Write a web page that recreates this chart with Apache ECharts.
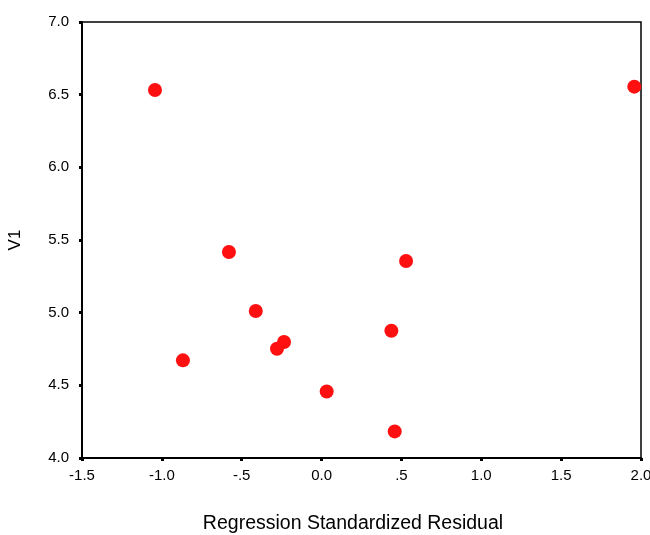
<!DOCTYPE html>
<html>
<head>
<meta charset="utf-8">
<script src="https://cdn.jsdelivr.net/npm/echarts@6/dist/echarts.min.js"></script>
<style>html,body{margin:0;padding:0;background:#fff}#c{width:650px;height:535px}</style>
</head>
<body>
<div id="c"></div>
<script>
var residuals = [-1.043, 1.958, -0.580, 0.529, -0.412, 0.437, -0.235, -0.279, -0.868, 0.032, 0.458];
var v1Values  = [6.532, 6.555, 5.417, 5.355, 5.011, 4.876, 4.798, 4.752, 4.672, 4.458, 4.183];
var xTickValues = [-1.5, -1.0, -0.5, 0.0, 0.5, 1.0, 1.5, 2.0];
var xTickLabels = ['-1.5', '-1.0', '-.5', '0.0', '.5', '1.0', '1.5', '2.0'];
var yTickValues = [4.0, 4.5, 5.0, 5.5, 6.0, 6.5, 7.0];
var yTickLabels = ['4.0', '4.5', '5.0', '5.5', '6.0', '6.5', '7.0'];
var xTitle = 'Regression Standardized Residual';
var yTitle = 'V1';

function lookup(vals, labels, v) {
  for (var i = 0; i < vals.length; i++) if (Math.abs(vals[i] - v) < 1e-6) return labels[i];
  return '';
}

var points = residuals.map(function (x, i) { return [x, v1Values[i]]; });
var font = 'Liberation Sans, Arial, sans-serif';

var chart = echarts.init(document.getElementById('c'));
chart.setOption({
  animation: false,
  backgroundColor: '#ffffff',
  grid: { left: 82, right: 9, top: 22, bottom: 77, show: true, borderColor: '#000', borderWidth: 1.5,
          backgroundColor: 'transparent', containLabel: false, outerBoundsMode: 'none' },
  xAxis: {
    type: 'value', min: -1.5, max: 2.0, interval: 0.5,
    name: xTitle, nameLocation: 'middle', nameGap: 56,
    nameTextStyle: { fontFamily: font, fontSize: 19.5, color: '#000', padding: [0, 17, 0, 0] },
    axisLine: { show: true, onZero: false, lineStyle: { color: '#000', width: 2 } },
    axisTick: { show: true, length: 3, lineStyle: { color: '#000', width: 3 } },
    axisLabel: { fontFamily: font, fontSize: 15, color: '#000', margin: 10,
      formatter: function (v) { return lookup(xTickValues, xTickLabels, v); } },
    splitLine: { show: false }
  },
  yAxis: {
    type: 'value', min: 4.0, max: 7.0, interval: 0.5,
    name: yTitle, nameLocation: 'middle', nameGap: 58, nameRotate: 90,
    nameTextStyle: { fontFamily: font, fontSize: 17, color: '#000' },
    axisLine: { show: true, onZero: false, lineStyle: { color: '#000', width: 2 } },
    axisTick: { show: true, length: 3, lineStyle: { color: '#000', width: 3 } },
    axisLabel: { fontFamily: font, fontSize: 15, color: '#000', margin: 13,
      formatter: function (v) { return lookup(yTickValues, yTickLabels, v); } },
    splitLine: { show: false }
  },
  series: [{
    type: 'scatter',
    data: points,
    symbol: 'circle',
    symbolSize: 14,
    itemStyle: { color: '#ff1010', opacity: 1 },
    clip: false
  }]
});
</script>
</body>
</html>
